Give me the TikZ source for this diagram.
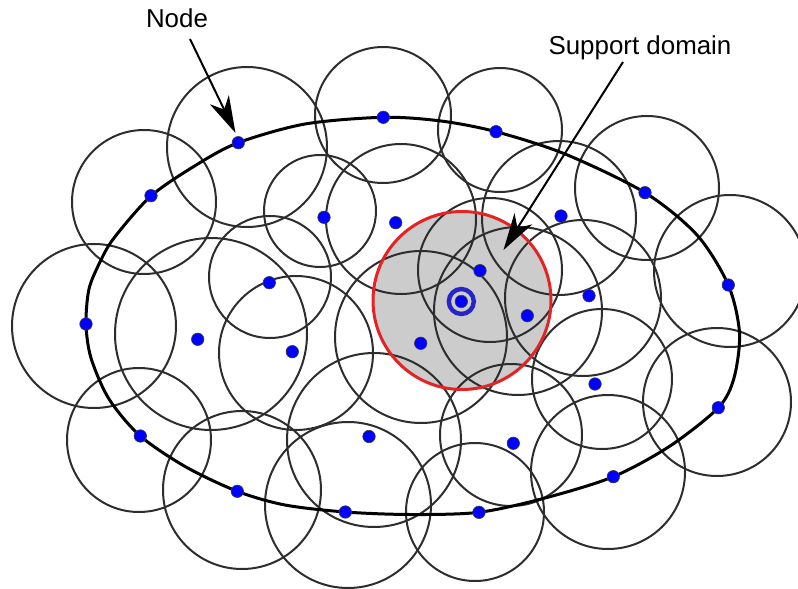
\documentclass[tikz,border=0pt]{standalone}
\usepackage{fontspec}
\setmainfont{Liberation Sans}
\usetikzlibrary{arrows.meta}
\definecolor{circ}{RGB}{45,45,45}
\definecolor{dotblue}{RGB}{0,0,255}
\definecolor{ringblue}{RGB}{38,38,200}
\definecolor{domred}{RGB}{228,36,36}
\definecolor{domgray}{RGB}{204,204,204}
\begin{document}
\begin{tikzpicture}[x=1bp,y=-1bp,
  supp/.style={draw=circ,line width=2bp},
  fe/.style={circle,fill=dotblue,draw=black!75,line width=0.6bp,inner sep=0pt,minimum size=12.5bp},
  pointer/.style={line width=2bp,-{Stealth[length=37bp,width=21bp,inset=11bp]}},
  lbl/.style={font=\fontsize{26}{30}\selectfont,anchor=base,inner sep=0pt}]
\useasboundingbox (0,0) rectangle (798,589);
% support domain fill
\fill[domgray] (462,300.5) circle[radius=89bp];
% support circles of all nodes
\foreach \cx/\cy/\r in {
  247/147/80, 383/115/68, 500/130/62, 647/188/72, 730/271/76,
  144/202/72, 94/326/82, 139/440/72, 242/490/79, 348/505/83,
  475/512/69, 608/472/77, 717/402/74,
  320/211/56, 401/219/75, 270/277/61, 211/334/96, 296/353/77,
  421/337/86, 490/270/72, 518/311/84, 559/218/77, 583/298/78,
  602/379/70, 511/435/71, 374/440/87}
  \draw[supp] (\cx,\cy) circle[radius=\r bp];
% support domain outline
\draw[domred,line width=3bp] (462,300.5) circle[radius=89bp];
% problem boundary
\draw[line width=3bp] plot[smooth cycle,tension=0.5] coordinates {
  (151,196) (197,164.5) (238.3,142.7) (305,124) (383.3,117.3) (441,121)
  (496,131.7) (565,154) (645,192.7) (697,235) (728.3,285) (739.5,333)
  (734,378) (718.3,407.7) (670,446) (613.3,476.7) (545,498) (479,512.3)
  (410,514.5) (345.3,512) (285,505) (237.3,491.3) (186,467) (140.3,436)
  (109,399) (91,358) (86,324) (89,289) (100,262) (114,238)};
% field nodes
\node[fe] (b1) at (238.3,142.7) {};
\node[fe] (b2) at (383.3,117.3) {};
\node[fe] (b3) at (496,131.7) {};
\node[fe] (b4) at (645,192.7) {};
\node[fe] (b5) at (728.3,285) {};
\node[fe] (b6) at (718.3,407.7) {};
\node[fe] (b7) at (613.3,476.7) {};
\node[fe] (b8) at (479,512.3) {};
\node[fe] (b9) at (345.3,512) {};
\node[fe] (b10) at (237.3,491.3) {};
\node[fe] (b11) at (140.3,436) {};
\node[fe] (b12) at (86,324) {};
\node[fe] (b13) at (151,195.7) {};
\node[fe] (i1) at (324,217.3) {};
\node[fe] (i2) at (395.7,222.7) {};
\node[fe] (i3) at (269.3,282.7) {};
\node[fe] (i4) at (197.7,339.3) {};
\node[fe] (i5) at (292.3,351.7) {};
\node[fe] (i6) at (420.7,343.3) {};
\node[fe] (i7) at (480,270.7) {};
\node[fe] (i8) at (527.3,315.7) {};
\node[fe] (i9) at (561,216) {};
\node[fe] (i10) at (589,295.7) {};
\node[fe] (i11) at (595,384) {};
\node[fe] (i12) at (513.3,443.3) {};
\node[fe] (i13) at (369,436.5) {};
% point of interest
\node[circle,draw=ringblue,line width=4.4bp,minimum size=25bp,inner sep=0pt] (ring) at (461.3,301.5) {};
\node[fe] (ctr) at (461.3,301.5) {};
% labels and pointers
\node[lbl] (nodelbl) at (177,28) {Node};
\node[lbl] (suplbl) at (640,55) {Support domain};
\coordinate (nodeTail) at (190,39);
\coordinate (nodeTip) at (235.5,133);
\coordinate (supTail) at (623,62);
\coordinate (supTip) at (503.5,250);
\draw[pointer] (nodeTail) -- (nodeTip);
\draw[pointer] (supTail) -- (supTip);
\end{tikzpicture}
\end{document}
